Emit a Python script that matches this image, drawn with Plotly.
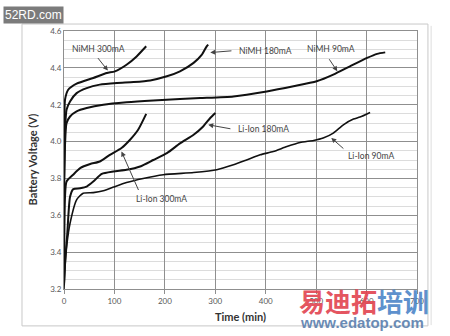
import plotly.graph_objects as go

# ---- data ----
nimh300_t = [0, 1, 2, 8, 25, 58, 85, 101, 124, 144, 163]
nimh300_v = [3.85, 4.15, 4.227, 4.28, 4.314, 4.345, 4.372, 4.381, 4.417, 4.462, 4.517]

nimh180_t = [0, 2, 5, 12, 25, 45, 71, 105, 138, 171, 204, 230, 257, 273, 283, 286]
nimh180_v = [3.75, 4.05, 4.173, 4.218, 4.263, 4.29, 4.309, 4.318, 4.323, 4.332, 4.354, 4.381, 4.427, 4.47, 4.517, 4.526]

nimh90_t = [0, 2, 5, 12, 25, 45, 78, 124, 177, 230, 270, 336, 402, 455, 501, 534, 567, 601, 621, 637]
nimh90_v = [3.7, 3.98, 4.10, 4.136, 4.164, 4.182, 4.20, 4.213, 4.223, 4.231, 4.236, 4.245, 4.272, 4.30, 4.327, 4.363, 4.408, 4.454, 4.476, 4.484]

liion300_t = [0, 2, 5, 18, 32, 52, 71, 91, 114, 131, 147, 163]
liion300_v = [3.25, 3.70, 3.783, 3.82, 3.856, 3.878, 3.892, 3.928, 3.965, 4.01, 4.064, 4.15]

liion180_t = [0, 3, 6.5, 12, 18.5, 32, 45, 58, 75, 98, 124, 151, 177, 204, 230, 257, 276, 290, 300]
liion180_v = [3.22, 3.38, 3.50, 3.70, 3.742, 3.747, 3.756, 3.783, 3.825, 3.838, 3.847, 3.865, 3.90, 3.937, 3.99, 4.037, 4.082, 4.128, 4.155]

liion90_t = [0, 2, 6, 12, 25, 38, 58, 78, 98, 124, 157, 197, 257, 303, 336, 362, 389, 415, 442, 468, 495, 514, 534, 554, 574, 587, 607]
liion90_v = [3.2, 3.32, 3.45, 3.557, 3.684, 3.72, 3.723, 3.733, 3.753, 3.778, 3.80, 3.82, 3.832, 3.847, 3.874, 3.90, 3.928, 3.946, 3.973, 3.995, 4.006, 4.019, 4.046, 4.091, 4.122, 4.133, 4.158]

x_ticks = [0, 100, 200, 300, 400, 500, 600, 700]
y_ticks = [3.2, 3.4, 3.6, 3.8, 4.0, 4.2, 4.4, 4.6]

# labels: (text, text_x, text_y, arrow_tail_x, arrow_tail_y, arrow_tip_x, arrow_tip_y)
labels = [
    ("NiMH 300mA", 69, 4.504, 65, 4.461, 87, 4.385),
    ("NiMH 180mA", 399, 4.493, 335, 4.493, 290, 4.483),
    ("NiMH 90mA", 530, 4.504, 524, 4.455, 542, 4.381),
    ("Li-Ion 180mA", 395, 4.07, 333, 4.068, 286, 4.091),
    ("Li-Ion 90mA", 609, 3.923, 557, 3.955, 530, 4.02),
    ("Li-Ion 300mA", 194, 3.689, 149, 3.729, 114, 3.946),
]

series = [
    (nimh300_t, nimh300_v, 2.0),
    (nimh180_t, nimh180_v, 2.0),
    (nimh90_t, nimh90_v, 2.0),
    (liion300_t, liion300_v, 2.0),
    (liion180_t, liion180_v, 2.0),
    (liion90_t, liion90_v, 1.6),
]

fig = go.Figure()
for t, v, w in series:
    fig.add_trace(go.Scatter(x=t, y=v, mode="lines", line=dict(color="#111111", width=w, shape="spline", smoothing=0.6),
                             showlegend=False, hoverinfo="skip"))

font_fam = "Lato, 'Open Sans', sans-serif"
annots = []
for text, tx, ty, ax_, ay_, px_, py_ in labels:
    annots.append(dict(x=tx, y=ty, xref="x", yref="y", text=text, showarrow=False,
                       xanchor="center", yanchor="middle",
                       font=dict(size=8.5, color="#444444", family=font_fam)))
    annots.append(dict(x=px_, y=py_, ax=ax_, ay=ay_, xref="x", yref="y", axref="x", ayref="y",
                       text="", showarrow=True, arrowhead=2, arrowsize=1, arrowwidth=1,
                       arrowcolor="#444444"))

# axis titles
annots.append(dict(x=-0.092, y=0.5, xref="paper", yref="paper", text="<b>Battery Voltage (V)</b>",
                   xanchor="center", yanchor="middle",
                   textangle=-90, showarrow=False, font=dict(size=11, color="#333333", family=font_fam)))
annots.append(dict(x=0.5, y=-0.108, xref="paper", yref="paper", text="<b>Time (min)</b>",
                   xanchor="center", yanchor="middle",
                   showarrow=False, font=dict(size=11, color="#333333", family=font_fam)))

# watermarks present in the reference picture
annots.append(dict(x=-0.085, y=1.062, xref="paper", yref="paper", text="52RD.com", showarrow=False,
                   xanchor="center", yanchor="middle",
                   bgcolor="#7b7b7b", font=dict(size=12, color="white", family="'Liberation Sans', Arial"),
                   borderpad=1))
annots.append(dict(x=0.85, y=-0.046, xref="paper", yref="paper",
                   text="<b><span style='color:#e2434f'>易迪拓</span><span style='color:#4d86c8'>培训</span></b>",
                   xanchor="center", yanchor="middle",
                   showarrow=False, opacity=0.9,
                   font=dict(size=26, family="'Noto Sans CJK SC'")))
annots.append(dict(x=0.845, y=-0.128, xref="paper", yref="paper", text="<b>www.edatop.com</b>",
                   xanchor="center", yanchor="middle",
                   showarrow=False, opacity=0.9,
                   font=dict(size=15, color="#5b7fae", family="'Liberation Sans', Arial")))

shapes = [
    dict(type="rect", xref="paper", yref="paper", x0=-0.119, x1=1.031, y0=-0.143, y1=1.027,
         line=dict(color="#c8c8c8", width=1), fillcolor="rgba(0,0,0,0)", layer="below"),
    dict(type="line", xref="paper", yref="paper", x0=1.040, x1=1.040, y0=-0.14, y1=1.02,
         line=dict(color="#dddddd", width=1)),
]

fig.update_layout(
    width=450, height=336,
    margin=dict(l=64, r=33, t=31, b=47),
    paper_bgcolor="white", plot_bgcolor="white",
    annotations=annots, shapes=shapes,
    xaxis=dict(range=[0, 700], tickvals=x_ticks, ticktext=[str(v) for v in x_ticks],
               showgrid=True, gridcolor="#8f8f8f", gridwidth=1,
               showline=True, linecolor="#8f8f8f", mirror=True,
               ticks="outside", ticklen=4, tickcolor="#8f8f8f",
               tickfont=dict(size=8, color="#595959", family=font_fam), zeroline=False),
    yaxis=dict(range=[3.2, 4.6], tickvals=y_ticks, ticktext=[f"{v:.1f}" for v in y_ticks],
               showgrid=True, gridcolor="#8f8f8f", gridwidth=1,
               minor=dict(dtick=0.05, showgrid=True, gridcolor="#dcdcdc", gridwidth=1),
               showline=True, linecolor="#8f8f8f", mirror=True,
               ticks="", tickfont=dict(size=8, color="#595959", family=font_fam), zeroline=False),
)

fig.write_html("out.html")
